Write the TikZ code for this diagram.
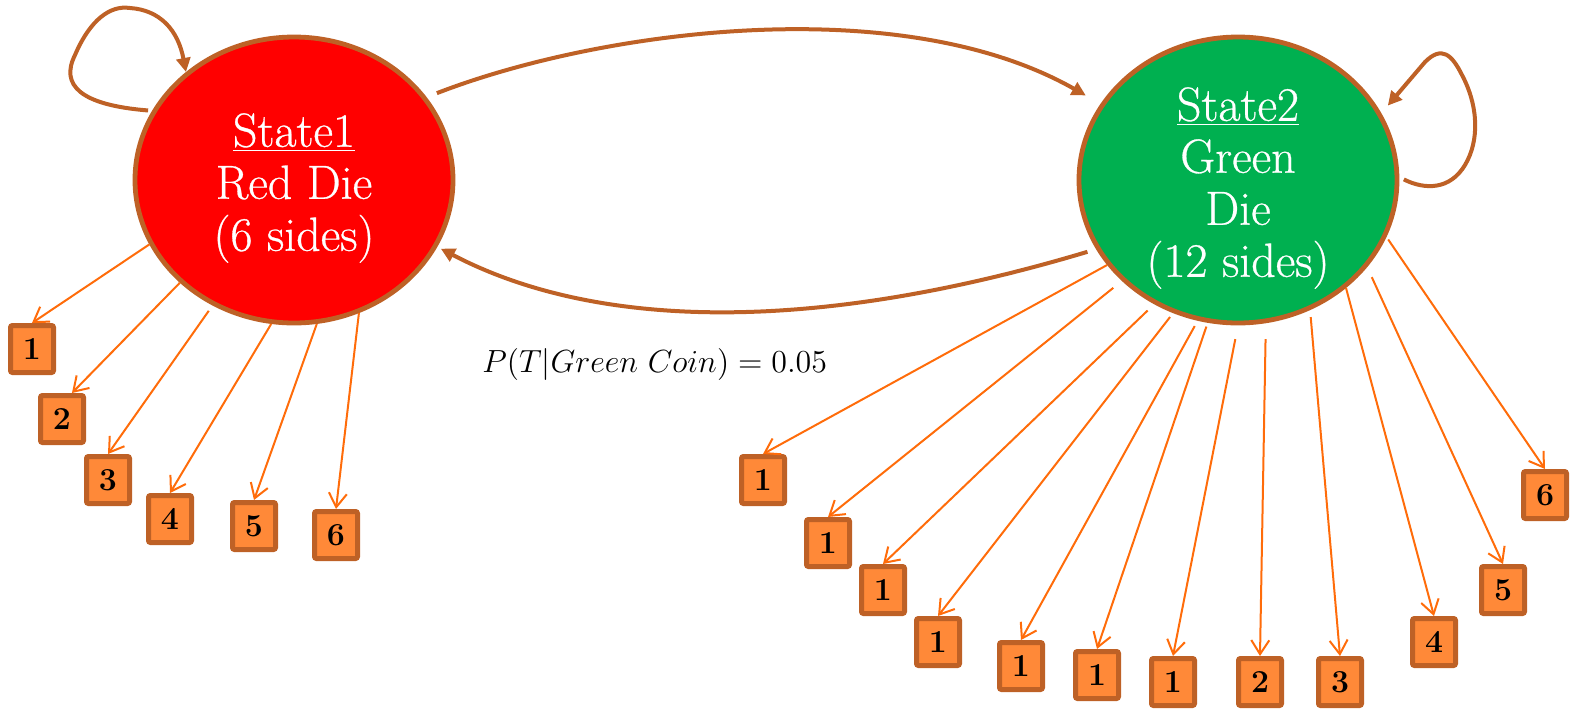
\RequirePackage{fix-cm}
\documentclass[tikz,border=0pt]{standalone}
\usepackage{fontspec}
\newfontfamily\heavyrm[FakeBold=0.6]{Latin Modern Roman}
\usetikzlibrary{arrows.meta,calc,shapes.geometric}
\definecolor{brd}{RGB}{190,97,38}
\definecolor{boxfill}{RGB}{255,137,56}
\definecolor{arr}{RGB}{255,108,10}
\definecolor{redfill}{RGB}{255,0,0}
\definecolor{greenfill}{RGB}{0,176,80}
\begin{document}
\begin{tikzpicture}[x=0.5pt,y=-0.5pt,
  state/.style={ellipse, draw=brd, line width=2.4pt, minimum width=159pt, minimum height=143pt, inner sep=0pt},
  die/.style={draw=brd, line width=2.5pt, fill=boxfill, rounded corners=1pt, minimum width=21.5pt, minimum height=23.5pt, inner sep=0pt, font=\fontsize{16}{16}\selectfont\bfseries},
  emit/.style={draw=arr, line width=1pt, -{Straight Barb[length=7pt,width=9pt]}},
  trans/.style={draw=brd, line width=2pt, -{Triangle[length=7pt,width=7pt]}},
  stxt/.style={text=white, align=center, inner sep=0pt, font=\heavyrm\fontsize{24}{26}\selectfont},
  prob/.style={anchor=base west, inner sep=0pt, font=\fontsize{16}{19}\selectfont},
]
\useasboundingbox (0,0) rectangle (1571,708);

% states
\node[state, fill=redfill] (s1) at (294,180) {};
\node[state, fill=greenfill] (s2) at (1238,180) {};
\node[stxt] (t1) at (294,188) {\underline{State1}\\Red Die\\(6 sides)};
\node[stxt] (t2) at (1238,188) {\underline{State2}\\Green\\Die\\(12 sides)};

% red die outcomes
\node[die] (b1) at (32,349) {1};
\node[die] (b2) at (62,419) {2};
\node[die] (b3) at (108,480) {3};
\node[die] (b4) at (170,519) {4};
\node[die] (b5) at (254,526) {5};
\node[die] (b6) at (336,535) {6};

% green die outcomes
\node[die] (g1) at (763,480) {1};
\node[die] (g2) at (828,543) {1};
\node[die] (g3) at (883,590) {1};
\node[die] (g4) at (938,642) {1};
\node[die] (g5) at (1021,666) {1};
\node[die] (g6) at (1097,675) {1};
\node[die] (g7) at (1173,682) {1};
\node[die] (g8) at (1260,682) {2};
\node[die] (g9) at (1340,682) {3};
\node[die] (g10) at (1434,642) {4};
\node[die] (g11) at (1503,590) {5};
\node[die] (g12) at (1545,495) {6};

% red emissions
\draw[emit] (s1.204) -- (b1.north);
\draw[emit] (s1.222) -- (b2.69);
\draw[emit, shorten <=3.25pt] (s1.237) -- (b3.north);
\draw[emit] (s1.261) -- (b4.north);
\draw[emit] (s1.279) -- (b5.north);
\draw[emit] (s1.296) -- (b6.north);

% green emissions
\draw[emit] (s2.213) -- (g1.north);
\draw[emit, shorten <=5.5pt] (s2.221) -- (g2.north);
\draw[emit, shorten <=4.5pt] (s2.236) -- (g3.north);
\draw[emit, shorten <=2.5pt] (s2.244) -- (g4.north);
\draw[emit, shorten <=3pt] (s2.254) -- (g5.north);
\draw[emit, shorten <=2pt] (s2.258) -- (g6.north);
\draw[emit, shorten <=7pt] (s2.270) -- (g7.north);
\draw[emit, shorten <=8pt] (s2.281) -- (g8.north);
\draw[emit, shorten <=3.5pt] (s2.299) -- (g9.north);
\draw[emit] (s2.315) -- (g10.north);
\draw[emit, shorten <=5.5pt] (s2.326) -- (g11.north);
\draw[emit, shorten <=1.5pt] (s2.339) -- (g12.north);

% transitions
\draw[trans, shorten <=5.5pt, shorten >=8.5pt] (s1.32) .. controls (600,30) and (900,-10) .. (s2.151);
\draw[trans, shorten <=4.5pt, shorten >=2pt] (s2.206) .. controls (820,332) and (600,332) .. (s1.335);
\draw[trans, shorten <=2pt] (s1.154) .. controls (80,105) and (60,85) .. (75,55) .. controls (90,20) and (110,5) .. (130,8) .. controls (160,10) and (178,30) .. (s1.135);
\draw[trans, shorten <=2.5pt, shorten >=5pt] (s2.1) .. controls (1425,190) and (1450,190) .. (1465,165) .. controls (1480,140) and (1478,105) .. (1462,75) .. controls (1452,55) and (1442,45) .. (1425,62) -- (s2.25);

% probability label
\node[prob] (lbl) at (482,372) {$P(T|Green\ Coin) = 0.05$};
\end{tikzpicture}
\end{document}
